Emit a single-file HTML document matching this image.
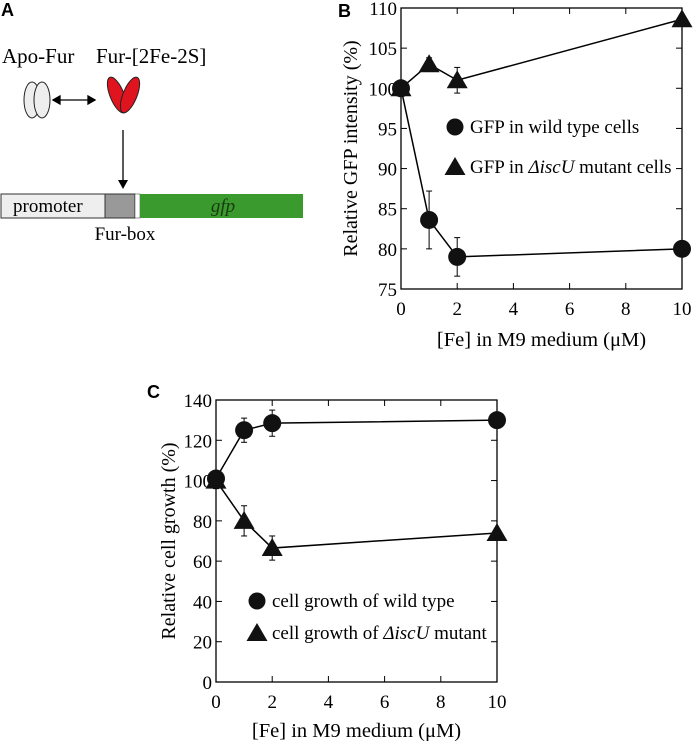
<!DOCTYPE html>
<html><head><meta charset="utf-8"><style>
html,body{margin:0;padding:0;background:#fff}
svg{display:block;font-family:"Liberation Serif",serif}
.lbl{font-family:"Liberation Sans",sans-serif;font-weight:bold;font-size:18px}
</style></head><body>
<svg id="fig" width="694" height="741" viewBox="0 0 694 741">
<g>
<text class="lbl" x="1" y="16">A</text>
<text x="2" y="63" font-size="21">Apo-Fur</text>
<text x="96" y="63" font-size="21">Fur-[2Fe-2S]</text>
<g stroke="#222" stroke-width="1" fill="#eee">
<ellipse cx="32" cy="100" rx="8" ry="18"/><ellipse cx="42" cy="100" rx="8" ry="18"/></g>
<g stroke="#222" stroke-width="1" fill="#e0141e">
<ellipse cx="117" cy="95" rx="7" ry="19" transform="rotate(-22 117 95)"/><ellipse cx="130" cy="95" rx="7" ry="19" transform="rotate(22 130 95)"/></g>
<g stroke="#000" stroke-width="1.3" fill="#000">
<line x1="58" y1="100" x2="90" y2="100"/><polygon points="53,100 60,96 60,104"/><polygon points="95,100 88,96 88,104"/></g>
<g><line x1="123" y1="130" x2="123" y2="182" stroke="#000" stroke-width="1.3"/><polygon points="118,180 128,180 123,189" fill="#000"/></g>
<rect x="1" y="194" width="104" height="24" fill="#eee" stroke="#333"/>
<text x="13" y="212" font-size="19">promoter</text>
<rect x="105" y="194" width="30" height="24" fill="#999" stroke="#333"/>
<rect x="135" y="194" width="5" height="24" fill="#fff" stroke="#333" stroke-width="0.5"/>
<rect x="140" y="194" width="163" height="24" fill="#3a9a2e"/>
<text x="223" y="212" font-size="19" font-style="italic" text-anchor="middle" fill="#1a3a10">gfp</text>
<text x="125" y="240" font-size="19" text-anchor="middle">Fur-box</text>
</g>
<g id="chartB"></g>
<g id="chartC"></g>
</svg>
<script>
const xValues=[0,1,2,10];
const xTicks=[0,2,4,6,8,10];
const bYTicks=[75,80,85,90,95,100,105,110];
const bWild=[100,83.6,79,80];
const bWildErr=[0,3.6,2.4,0];
const bMutant=[100,103,101,108.6];
const bMutantErr=[0,0.8,1.6,0];
const cYTicks=[0,20,40,60,80,100,120,140];
const cWild=[101,125,128.5,130];
const cWildErr=[4,6,6.5,0];
const cMutant=[100,80,66.5,74];
const cMutantErr=[4,7.5,6,0];
const NS='http://www.w3.org/2000/svg';
function mk(p,t,a){const e=document.createElementNS(NS,t);for(const k in a)e.setAttribute(k,a[k]);p.appendChild(e);return e;}
function chart(g,o){
 const sx=v=>o.x0+(v-0)/(10-0)*(o.x1-o.x0);
 const sy=v=>o.y1-(v-o.ymin)/(o.ymax-o.ymin)*(o.y1-o.y0);
 const frame=mk(g,'rect',{x:o.x0,y:o.y0,width:o.x1-o.x0,height:o.y1-o.y0,fill:'none',stroke:'#000','stroke-width':1.3});
 
 
 o.yTicks.forEach(v=>{const y=sy(v);
  mk(g,'line',{x1:o.x0,y1:y,x2:o.x0+6,y2:y,stroke:'#000'});mk(g,'line',{x1:o.x1,y1:y,x2:o.x1-6,y2:y,stroke:'#000'});
  const t=mk(g,'text',{x:o.x0-4,y:y+7,'font-size':19,'text-anchor':'end'});t.textContent=v;
  
  });
 xTicks.forEach(v=>{const x=sx(v);
  mk(g,'line',{x1:x,y1:o.y1,x2:x,y2:o.y1-6,stroke:'#000'});mk(g,'line',{x1:x,y1:o.y0,x2:x,y2:o.y0+6,stroke:'#000'});
  const t=mk(g,'text',{x:x,y:o.y1+26,'font-size':19,'text-anchor':'middle'});t.textContent=v;
  
  });
 const xt=mk(g,'text',{x:(o.x0+o.x1)/2,y:o.xTitleY,'font-size':20.5,'text-anchor':'middle'});xt.textContent='[Fe] in M9 medium (\u03BCM)';
 
 
 const yt=mk(g,'text',{x:0,y:0,'font-size':20,'text-anchor':'middle',transform:`translate(${o.yTitleX},${(o.y0+o.y1)/2}) rotate(-90)`});yt.textContent=o.yTitle;
 
 
 function series(vals,errs,shape,name){
  const pts=vals.map((v,i)=>sx(xValues[i])+','+sy(v)).join(' ');
  const l=mk(g,'polyline',{points:pts,fill:'none',stroke:'#000','stroke-width':1.5});
  
  
  vals.forEach((v,i)=>{const x=sx(xValues[i]),y=sy(v);
   if(errs[i]>0){mk(g,'line',{x1:x,y1:sy(v-errs[i]),x2:x,y2:sy(v+errs[i]),stroke:'#000'});
    mk(g,'line',{x1:x-3,y1:sy(v-errs[i]),x2:x+3,y2:sy(v-errs[i]),stroke:'#000'});
    mk(g,'line',{x1:x-3,y1:sy(v+errs[i]),x2:x+3,y2:sy(v+errs[i]),stroke:'#000'});}
   let m;
   if(shape==='c')m=mk(g,'circle',{cx:x,cy:y,r:9,fill:'#111'});
   else m=mk(g,'polygon',{points:`${x},${y-10} ${x-10.5},${y+8} ${x+10.5},${y+8}`,fill:'#111'});
   
   });
 }
 series(o.mut,o.mutErr,'t','mutant');
 series(o.wild,o.wildErr,'c','wild-type');
 o.legend.forEach((L,i)=>{const y=o.legY[i];
  let m;
  if(i===0)m=mk(g,'circle',{cx:o.legX,cy:y,r:8.5,fill:'#111'});
  else m=mk(g,'polygon',{points:`${o.legX},${y-10} ${o.legX-10.5},${y+8} ${o.legX+10.5},${y+8}`,fill:'#111'});
  
  
  const t=mk(g,'text',{x:o.legX+15,y:y+6,'font-size':19});t.innerHTML=L;
  
  });
 const lb=mk(g,'text',{x:o.lblX,y:o.lblY,class:'lbl'});lb.textContent=o.label;
 
 
}
chart(document.getElementById('chartB'),{x0:401,x1:682,y0:8,y1:289,ymin:75,ymax:110,yTicks:bYTicks,
 wild:bWild,wildErr:bWildErr,mut:bMutant,mutErr:bMutantErr,xTitleY:346,yTitleX:357,yTitle:'Relative GFP intensity (%)',
 legX:455,legY:[127,167],legend:['GFP in wild type cells','GFP in <tspan font-style="italic">\u0394iscU</tspan> mutant cells'],label:'B',lblX:338,lblY:17});
chart(document.getElementById('chartC'),{x0:216,x1:497,y0:400,y1:682,ymin:0,ymax:140,yTicks:cYTicks,
 wild:cWild,wildErr:cWildErr,mut:cMutant,mutErr:cMutantErr,xTitleY:737,yTitleX:175,yTitle:'Relative cell growth (%)',
 legX:257,legY:[601,633],legend:['cell growth of wild type','cell growth of <tspan font-style="italic">\u0394iscU</tspan> mutant'],label:'C',lblX:147,lblY:398});
</script>
</body></html>
